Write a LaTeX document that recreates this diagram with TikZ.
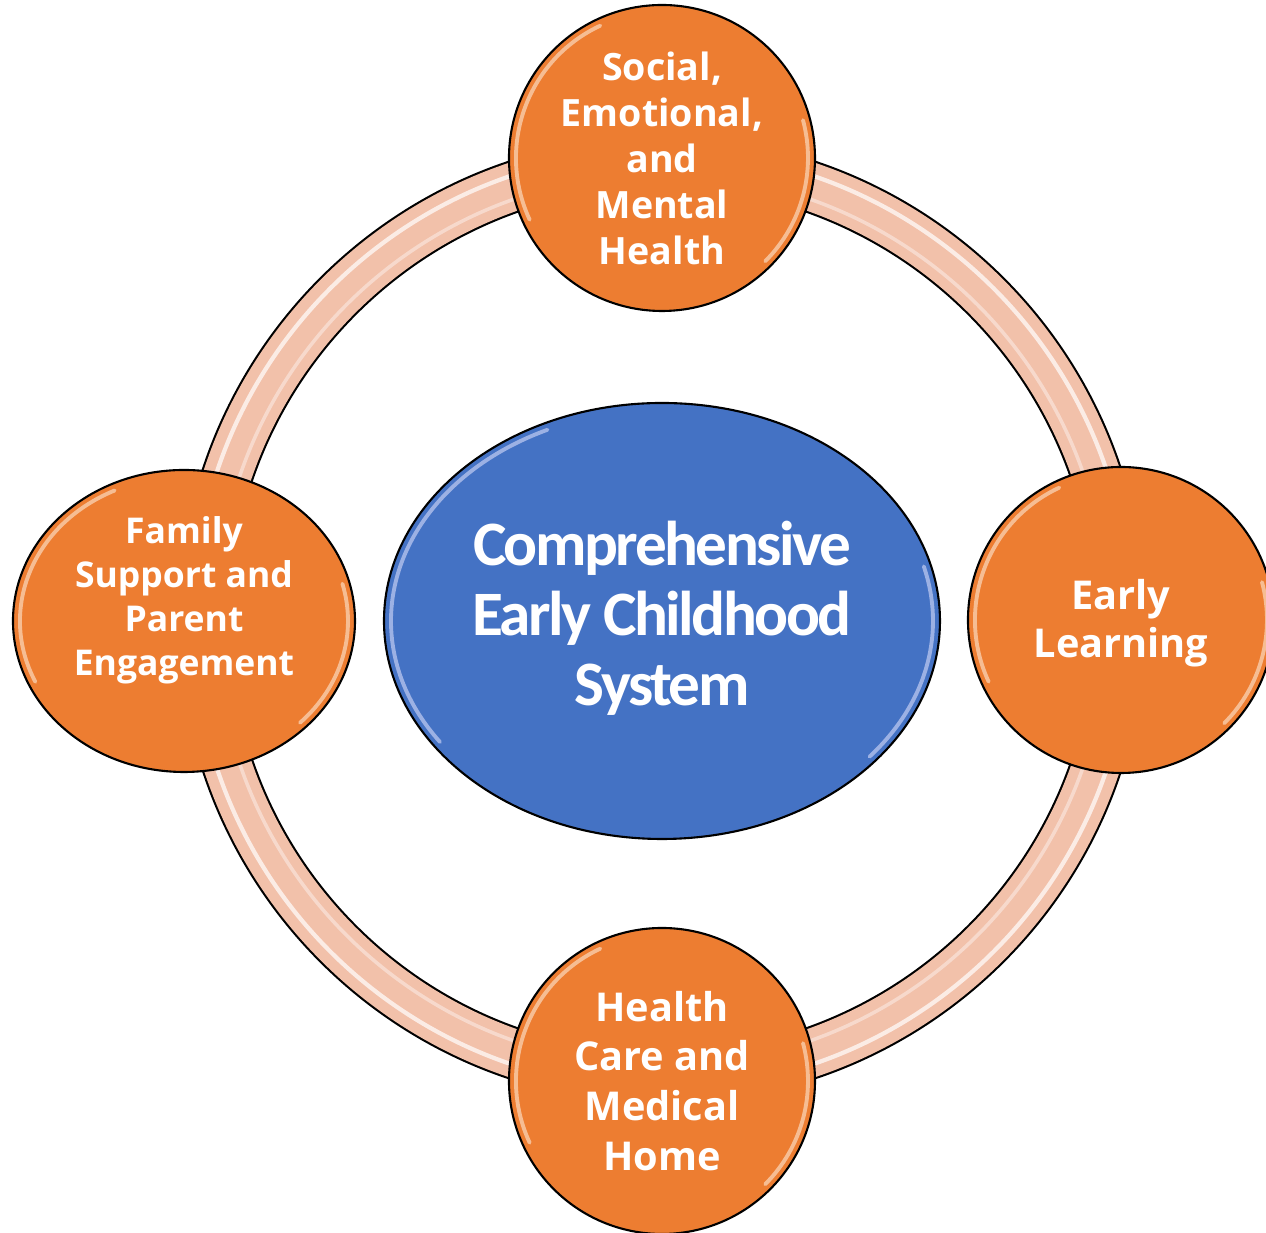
\documentclass[tikz,border=0pt]{standalone}
\usepackage{fontspec}
\setmainfont{Open Sans}
\newfontfamily\hubfont{Carlito}[LetterSpace=-4]
\usepackage{xcolor}
\usepackage{tikz}
\usetikzlibrary{shapes,positioning,calc}

\definecolor{pillarorange}{HTML}{ED7D31}
\definecolor{hubblue}{HTML}{4472C4}
\definecolor{ringpink}{HTML}{F2C1AA}

\tikzset{
  pillar/.style={ellipse, draw=black, line width=0.6pt, fill=pillarorange, inner sep=0pt},
  pillartext/.style={align=center, text=white, inner sep=0pt},
  hub/.style={ellipse, draw=black, line width=0.6pt, fill=hubblue, inner sep=0pt,
    minimum width=5.56cm, minimum height=4.36cm},
  glint/.style={line width=1.1pt, line cap=round, opacity=0.55},
}

\begin{document}
\begin{tikzpicture}
    \useasboundingbox (-6.62,-6.13) rectangle (6.04,6.20);

    % Ring
    \draw[line width=0.6pt, double=ringpink, double distance=0.48cm] (0,0) circle (4.58);
    \draw[white, opacity=0.7, line width=1.2pt] (0,0) circle (4.69);
    \draw[white, opacity=0.4, line width=1pt] (0,0) circle (4.46);

    % Pillars
    \node[pillar, minimum width=3.06cm, minimum height=3.06cm] (social) at (0,4.62) {};
    \node[pillar, minimum width=3.06cm, minimum height=3.06cm] (learning) at (4.59,0) {};
    \node[pillar, minimum width=3.06cm, minimum height=3.06cm] (health) at (0,-4.61) {};
    \node[pillar, minimum width=3.42cm, minimum height=3.02cm] (family) at (-4.78,-0.01) {};

    \foreach \n in {social,learning,health} {
      \draw[glint, orange!10!white] ($(\n.center)+(115:1.46)$) arc (115:205:1.46);
      \draw[glint, orange!10!white] ($(\n.center)+(-45:1.46)$) arc (-45:15:1.46);
    }
    \draw[glint, orange!10!white] ($(family.center)+({1.64*cos(115)},{1.44*sin(115)})$)
      arc [start angle=115, end angle=205, x radius=1.64, y radius=1.44];
    \draw[glint, orange!10!white] ($(family.center)+({1.64*cos(-45)},{1.44*sin(-45)})$)
      arc [start angle=-45, end angle=15, x radius=1.64, y radius=1.44];

    \node[pillartext, font=\bfseries\fontsize{10.7}{13.1}\selectfont] (social-t) at (social)
      {Social,\\Emotional,\\and\\Mental\\Health};
    \node[pillartext, font=\bfseries\fontsize{11.3}{13.7}\selectfont, yshift=-0.03cm] (learning-t) at (learning)
      {Early\\Learning};
    \node[pillartext, font=\bfseries\fontsize{11.3}{14.2}\selectfont] (health-t) at (health)
      {Health\\Care and\\Medical\\Home};
    \node[pillartext, font=\bfseries\fontsize{10.1}{12.5}\selectfont, yshift=0.21cm] (family-t) at (family)
      {Family\\Support and\\Parent\\Engagement};

    % Hub
    \node[hub] (system) at (0,-0.01) {};
    \draw[glint, blue!10!white] ($(system.center)+({2.71*cos(115)},{2.11*sin(115)})$)
      arc [start angle=115, end angle=215, x radius=2.71, y radius=2.11];
    \draw[glint, blue!10!white] ($(system.center)+({2.71*cos(-40)},{2.11*sin(-40)})$)
      arc [start angle=-40, end angle=15, x radius=2.71, y radius=2.11];
    \node[pillartext, font=\hubfont\bfseries\fontsize{18}{19.9}\selectfont, yshift=0.03cm] (system-t) at (system)
      {Comprehensive\\Early Childhood\\System};
\end{tikzpicture}
\end{document}
